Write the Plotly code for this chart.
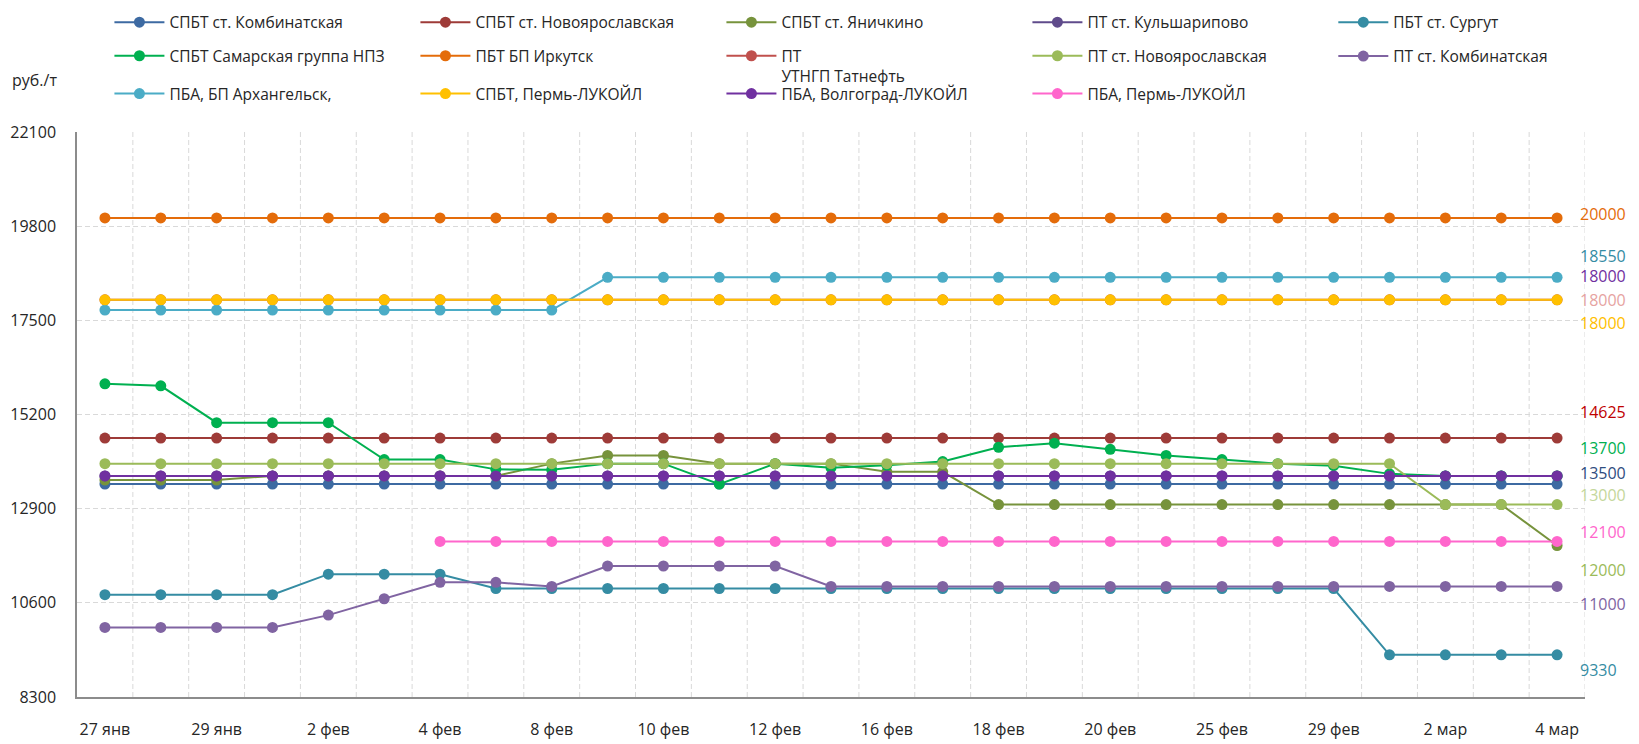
import plotly.graph_objects as go

# categories (every other one is labelled on the axis)
dates = ['27 янв', '28 янв', '29 янв', '30 янв', '2 фев', '3 фев', '4 фев', '5 фев', '8 фев',
         '9 фев', '10 фев', '11 фев', '12 фев', '15 фев', '16 фев', '17 фев', '18 фев', '19 фев',
         '20 фев', '24 фев', '25 фев', '26 фев', '29 фев', '1 мар', '2 мар', '3 мар', '4 мар']

spbt_kombinat = [13500, 13500, 13500, 13500, 13500, 13500, 13500, 13500, 13500, 13500, 13500, 13500, 13500, 13500,
                 13500, 13500, 13500, 13500, 13500, 13500, 13500, 13500, 13500, 13500, 13500, 13500, 13500]
spbt_novoyar = [14625, 14625, 14625, 14625, 14625, 14625, 14625, 14625, 14625, 14625, 14625, 14625, 14625, 14625,
                14625, 14625, 14625, 14625, 14625, 14625, 14625, 14625, 14625, 14625, 14625, 14625, 14625]
spbt_yanichkino = [13600, 13600, 13600, 13700, 13700, 13700, 13700, 13700, 14000, 14200, 14200, 14000, 14000, 14000,
                   13800, 13800, 13000, 13000, 13000, 13000, 13000, 13000, 13000, 13000, 13000, 13000, 12000]
pt_kulsharipovo = [13700, 13700, 13700, 13700, 13700, 13700, 13700, 13700, 13700, 13700, 13700, 13700, 13700, 13700,
                   13700, 13700, 13700, 13700, 13700, 13700, 13700, 13700, 13700, 13700, 13700, 13700, 13700]
pbt_surgut = [10800, 10800, 10800, 10800, 11300, 11300, 11300, 10950, 10950, 10950, 10950, 10950, 10950, 10950,
              10950, 10950, 10950, 10950, 10950, 10950, 10950, 10950, 10950, 9330, 9330, 9330, 9330]
spbt_samara = [15950, 15900, 15000, 15000, 15000, 14100, 14100, 13860, 13850, 14000, 14000, 13500, 14000, 13900,
               13960, 14050, 14400, 14500, 14350, 14200, 14100, 14000, 13950, 13750, 13700, 13700, 13700]
pbt_irkutsk = [20000, 20000, 20000, 20000, 20000, 20000, 20000, 20000, 20000, 20000, 20000, 20000, 20000, 20000,
               20000, 20000, 20000, 20000, 20000, 20000, 20000, 20000, 20000, 20000, 20000, 20000, 20000]
pt_tatneft = [18000, 18000, 18000, 18000, 18000, 18000, 18000, 18000, 18000, 18000, 18000, 18000, 18000, 18000,
              18000, 18000, 18000, 18000, 18000, 18000, 18000, 18000, 18000, 18000, 18000, 18000, 18000]
pt_novoyar = [14000, 14000, 14000, 14000, 14000, 14000, 14000, 14000, 14000, 14000, 14000, 14000, 14000, 14000,
              14000, 14000, 14000, 14000, 14000, 14000, 14000, 14000, 14000, 14000, 13000, 13000, 13000]
pt_kombinat = [10000, 10000, 10000, 10000, 10300, 10700, 11100, 11100, 11000, 11500, 11500, 11500, 11500, 11000,
               11000, 11000, 11000, 11000, 11000, 11000, 11000, 11000, 11000, 11000, 11000, 11000, 11000]
pba_arkhangelsk = [17750, 17750, 17750, 17750, 17750, 17750, 17750, 17750, 17750, 18550, 18550, 18550, 18550, 18550,
                   18550, 18550, 18550, 18550, 18550, 18550, 18550, 18550, 18550, 18550, 18550, 18550, 18550]
spbt_perm = [18000, 18000, 18000, 18000, 18000, 18000, 18000, 18000, 18000, 18000, 18000, 18000, 18000, 18000,
             18000, 18000, 18000, 18000, 18000, 18000, 18000, 18000, 18000, 18000, 18000, 18000, 18000]
pba_volgograd = [13700, 13700, 13700, 13700, 13700, 13700, 13700, 13700, 13700, 13700, 13700, 13700, 13700, 13700,
                 13700, 13700, 13700, 13700, 13700, 13700, 13700, 13700, 13700, 13700, 13700, 13700, 13700]
pba_perm = [None, None, None, None, None, None, 12100, 12100, 12100, 12100, 12100, 12100, 12100, 12100,
            12100, 12100, 12100, 12100, 12100, 12100, 12100, 12100, 12100, 12100, 12100, 12100, 12100]

names = ['СПБТ ст. Комбинатская', 'СПБТ ст. Новоярославская', 'СПБТ ст. Яничкино', 'ПТ ст. Кульшарипово',
         'ПБТ ст. Сургут', 'СПБТ Самарская группа НПЗ', 'ПБТ БП Иркутск', 'ПТ<br>УТНГП Татнефть',
         'ПТ ст. Новоярославская', 'ПТ ст. Комбинатская', 'ПБА, БП Архангельск,', 'СПБТ, Пермь-ЛУКОЙЛ',
         'ПБА, Волгоград-ЛУКОЙЛ', 'ПБА, Пермь-ЛУКОЙЛ']
series = [spbt_kombinat, spbt_novoyar, spbt_yanichkino, pt_kulsharipovo, pbt_surgut, spbt_samara, pbt_irkutsk,
          pt_tatneft, pt_novoyar, pt_kombinat, pba_arkhangelsk, spbt_perm, pba_volgograd, pba_perm]
colors = ['#3d6aa2', '#9e3b38', '#77933c', '#5f4b8b', '#358ca3', '#00b050', '#e46c0a',
          '#c0504d', '#9bbb59', '#8064a2', '#4bacc6', '#ffc000', '#7030a0', '#ff66cc']

# values written at the right edge
end_labels = ['20000', '18550', '18000', '18000', '18000', '14625', '13700', '13500', '13000', '12100',
              '12000', '11000', '9330']
end_colors = ['#e46c0a', '#358ca3', '#7030a0', '#e6a3a1', '#ffc000', '#c00000', '#00b050', '#2f4d80',
              '#c4d79b', '#ff66cc', '#9bbb59', '#8064a2', '#358ca3']
end_label_y = [20100, 19080, 18590, 18000, 17430, 15270, 14390, 13770, 13240, 12340, 11410, 10580, 8950]

FONT = 'Open Sans'

# legend boxes: rows of four + the fifth column on its own (keeps the column grid)
legend_of = ['legend', 'legend', 'legend', 'legend', 'legend4',
             'legend2', 'legend2', 'legend2', 'legend2', 'legend5',
             'legend3', 'legend3', 'legend3', 'legend3']

fig = go.Figure()
for name, vals, c, leg in zip(names, series, colors, legend_of):
    fig.add_trace(go.Scatter(x=dates, y=vals, name=name, mode='lines+markers', legend=leg,
                             line=dict(color=c, width=2), marker=dict(color=c, size=11)))

# dashed vertical grid on category boundaries
shapes = []
for i in range(len(dates)):
    shapes.append(dict(type='line', xref='x', yref='paper', x0=i + 0.5, x1=i + 0.5, y0=0, y1=1,
                       line=dict(color='#d9d9d9', width=1, dash='5px,3px'), layer='below'))

annotations = [dict(text='руб./т', xref='paper', yref='paper', x=-0.0443, y=1.0917, xanchor='left',
                    yanchor='middle', showarrow=False, font=dict(size=16, color='#262626', family=FONT))]
for t, c, y in zip(end_labels, end_colors, end_label_y):
    annotations.append(dict(text=t, xref='paper', yref='y', x=0.9951, y=y, xanchor='left', yanchor='middle',
                            showarrow=False, font=dict(size=16, color=c, family=FONT)))

def legend_row(x, y):
    return dict(orientation='h', x=x, xanchor='left', y=y, yanchor='middle', entrywidth=241,
                entrywidthmode='pixels', itemwidth=50, valign='top', bgcolor='rgba(0,0,0,0)',
                font=dict(size=15.5, color='#262626', family=FONT), tracegroupgap=0)

# page body has an 8px margin, so the figure is 8px smaller than the window
fig.update_layout(
    width=1631, height=736,
    paper_bgcolor='white', plot_bgcolor='white',
    margin=dict(l=68.5, r=53.5, t=124, b=46.7, autoexpand=False),
    font=dict(family=FONT, size=16, color='#262626'),
    showlegend=True,
    legend=legend_row(0.0215, 1.1936),
    legend2=legend_row(0.0215, 1.1165),
    legend3=legend_row(0.0215, 1.0672),
    legend4=legend_row(0.8331, 1.1936),
    legend5=legend_row(0.8331, 1.1337),
    xaxis=dict(type='category', categoryorder='array', categoryarray=dates, range=[-0.5, len(dates) - 0.5],
               tickmode='array', tickvals=dates[::2], showgrid=False, showline=True, linecolor='#8c8c8c',
               linewidth=1.5, ticks='', ticklabelstandoff=17, tickfont=dict(size=16, color='#262626')),
    yaxis=dict(range=[8300, 22100], tickmode='linear', tick0=8300, dtick=2300, tickformat='.0f',
               showgrid=True, gridcolor='#d9d9d9', griddash='5px,3px', gridwidth=1, zeroline=False,
               showline=True, linecolor='#8c8c8c', linewidth=1.5, ticks='', ticklabelstandoff=16,
               tickfont=dict(size=16, color='#262626')),
    shapes=shapes,
    annotations=annotations,
)

fig.write_html("out.html")
